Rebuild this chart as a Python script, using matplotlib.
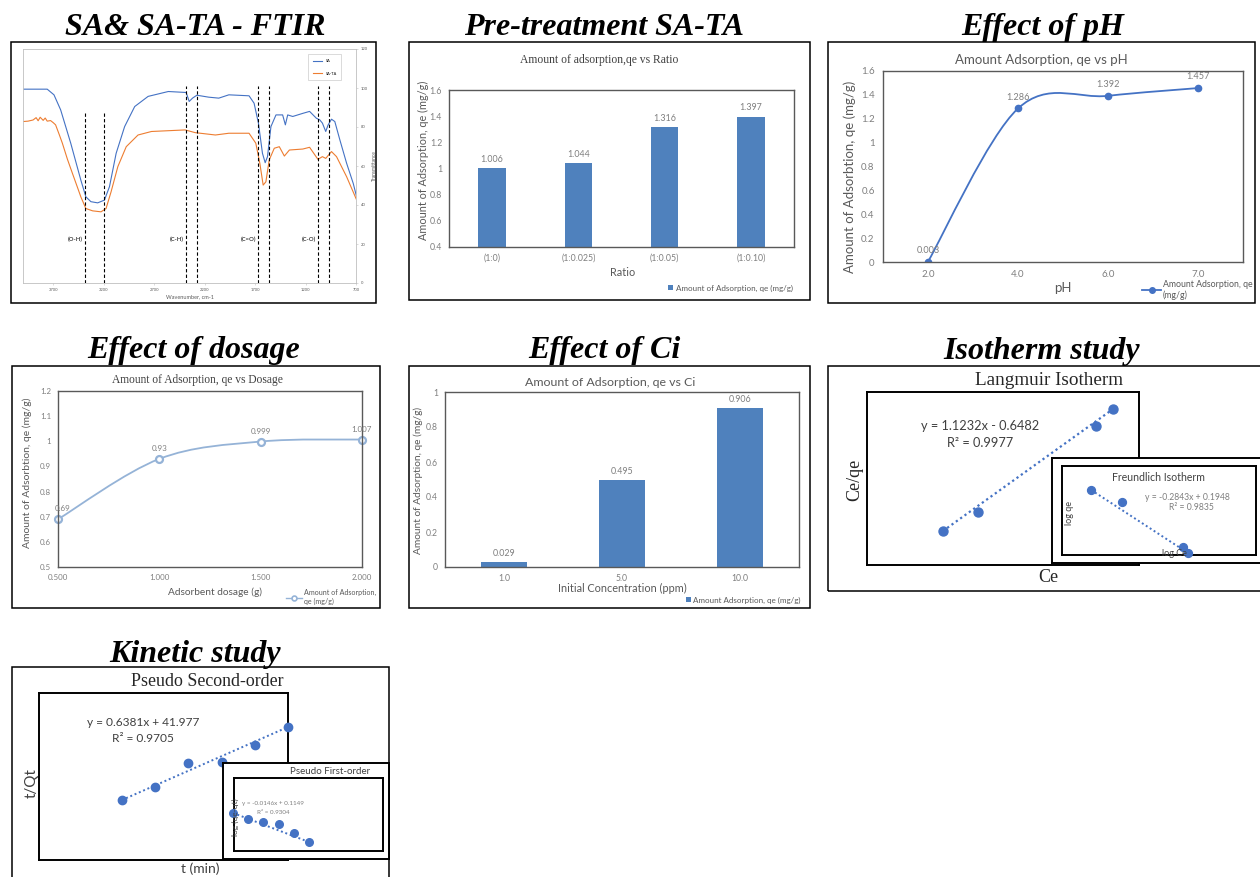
import numpy as np
import matplotlib
matplotlib.use('Agg')
import matplotlib.pyplot as plt
from matplotlib.patches import Rectangle, PathPatch
from matplotlib.path import Path
from matplotlib.lines import Line2D
from matplotlib.ticker import FuncFormatter

W, H = 1260, 877
SANS = ['Lato', 'DejaVu Sans']
SERIF = ['Liberation Serif', 'DejaVu Serif']
plt.rcParams['font.family'] = SANS

# ---- FTIR spectra (wavenumber cm-1, transmittance) ----
sa_wn = [4000, 3760, 3693, 3627, 3527, 3427, 3377, 3327, 3260, 3193, 3143, 3077, 2993, 2893, 2760, 2560,
         2383, 2353, 2320, 2277, 2160, 2060, 1960, 1760, 1710, 1667, 1627, 1600, 1577, 1543, 1493, 1427,
         1400, 1377, 1327, 1227, 1160, 1093, 1060, 1033, 1000, 977, 943, 910, 860, 793, 727, 693]
sa_t = [99.4, 99.4, 96.5, 88.8, 71.7, 52.8, 44.2, 41.7, 41.1, 42.5, 49.4, 66.5, 80.2, 90.5, 95.7, 98.2,
        97.7, 93.1, 94.8, 96.3, 95.3, 94.8, 96.5, 96.0, 92.2, 82.0, 66.5, 61.7, 64.8, 80.2, 86.2, 86.2,
        81.1, 86.2, 85.4, 87.0, 88.0, 84.5, 83.7, 82.0, 77.7, 81.0, 84.0, 82.8, 73.4, 61.4, 51.0, 44.0]
sata_wn = [4000, 3950, 3900, 3870, 3850, 3830, 3800, 3780, 3760, 3727, 3700, 3677, 3640, 3610, 3560, 3510,
           3460, 3427, 3377, 3310, 3227, 3177, 3127, 3060, 2977, 2860, 2727, 2393, 2293, 2093, 1960, 1760,
           1693, 1653, 1620, 1593, 1560, 1510, 1460, 1410, 1360, 1227, 1160, 1077, 1033, 1000, 943, 893,
           793, 693]
sata_t = [82.8, 83.0, 83.6, 84.8, 83.2, 85.0, 83.4, 84.6, 83.0, 83.3, 82.2, 81.1, 76.0, 71.7, 63.5, 56.2,
          49.0, 44.2, 38.2, 37.0, 36.5, 38.2, 46.8, 59.7, 69.9, 75.9, 77.7, 78.5, 77.1, 75.9, 76.8, 76.8,
          71.7, 61.4, 50.2, 51.9, 63.1, 69.1, 69.9, 65.1, 68.2, 68.7, 69.6, 63.4, 64.8, 63.9, 67.4, 64.8,
          54.5, 42.5]
band_names = ['(O-H)', '(C-H)', '(C=O)', '(C-O)']
band_lo = [3387, 2383, 1667, 1073]
band_hi = [3193, 2280, 1560, 970]
band_top = [88, 101, 101, 101]

# ---- adsorption studies ----
ratio_labels = ['(1:0)', '(1:0.025)', '(1:0.05)', '(1:0.10)']
ratio_qe = [1.006, 1.044, 1.316, 1.397]

ph_labels = ['2.0', '4.0', '6.0', '7.0']
ph_qe = [0.003, 1.286, 1.392, 1.457]

dosage_labels = ['0.500', '1.000', '1.500', '2.000']
dosage_qe = [0.69, 0.93, 0.999, 1.007]

ci_labels = ['1.0', '5.0', '10.0']
ci_qe = [0.029, 0.495, 0.906]

langmuir_ce = [1.2, 1.91, 4.30, 4.65]
langmuir_ce_qe = [0.70, 1.30, 4.03, 4.58]
langmuir_fit = (1.1232, -0.6482)
freund_logce = [0.08, 0.40, 1.03, 1.08]
freund_logqe = [0.172, 0.118, -0.085, -0.112]
freund_fit = (-0.2843, 0.1948)

kin_t = [10, 20, 30, 40, 50, 60]
kin_t_qt = [48.4, 54.0, 64.5, 64.9, 72.4, 80.3]
kin2_fit = (0.6381, 41.977)
kin_log = [-0.031, -0.182, -0.258, -0.308, -0.534, -0.761]
kin1_fit = (-0.0146, 0.1149)

BLUE = '#4472C4'
BAR = '#4F81BD'
LIGHT = '#95B3D7'
GREY = '#7f7f7f'
DARK = '#595959'

fig = plt.figure(figsize=(12.6, 8.77), dpi=100)


def rect(x0, y0, x1, y1):
    return [x0 / W, 1 - y1 / H, (x1 - x0) / W, (y1 - y0) / H]


def txt(x, y, s, **kw):
    kw.setdefault('ha', 'center')
    kw.setdefault('va', 'center')
    return fig.text(x / W, 1 - y / H, s, **kw)


def frame(x0, y0, x1, y1, lw=1.1):
    fig.add_artist(Rectangle((x0 / W, 1 - y1 / H), (x1 - x0) / W, (y1 - y0) / H,
                             transform=fig.transFigure, fill=False, edgecolor='black', lw=lw))


def heading(x, y, s):
    txt(x, y, s, family=SERIF, weight='bold', style='italic', fontsize=23, va='baseline')


def excel_axes(box, pad=5, size=6):
    ax = fig.add_axes(rect(*box))
    for s in ax.spines.values():
        s.set_color(DARK)
        s.set_linewidth(1.0)
    ax.tick_params(length=0, pad=pad, labelsize=size, labelcolor=GREY)
    ax.yaxis.set_major_formatter(FuncFormatter(lambda v, p: f'{round(v, 2):g}'))
    return ax


def plain_axes(box, z=1, lw=1.4):
    ax = fig.add_axes(rect(*box), zorder=z)
    ax.set_xticks([])
    ax.set_yticks([])
    for s in ax.spines.values():
        s.set_color('black')
        s.set_linewidth(lw)
    return ax


def smooth_line(ax, xs, ys, **kw):
    # Excel-style smoothed line: cubic Bezier through the points
    xs = np.asarray(xs, float)
    ys = np.asarray(ys, float)
    n = len(xs)
    verts = [(xs[0], ys[0])]
    codes = [Path.MOVETO]
    for i in range(n - 1):
        a, b = max(i - 1, 0), min(i + 2, n - 1)
        c1 = (xs[i] + (xs[i + 1] - xs[a]) / 6, ys[i] + (ys[i + 1] - ys[a]) / 6)
        c2 = (xs[i + 1] - (xs[b] - xs[i]) / 6, ys[i + 1] - (ys[b] - ys[i]) / 6)
        verts += [c1, c2, (xs[i + 1], ys[i + 1])]
        codes += [Path.CURVE4] * 3
    ax.add_patch(PathPatch(Path(verts, codes), fill=False, **kw))


def value_labels(ax, xs, ys, dy, size=6.4):
    for x, y in zip(xs, ys):
        ax.annotate(f'{y:g}', (x, y), xytext=(0, dy), textcoords='offset points',
                    ha='center', va='bottom', fontsize=size, color=GREY, annotation_clip=False)


# ================= SA & SA-TA FTIR =================
heading(195, 35, 'SA& SA-TA - FTIR')
frame(11, 42, 376, 303)
ax = fig.add_axes(rect(23, 49, 356, 283))
ax.plot(sa_wn, sa_t, color=BLUE, lw=0.8, label='SA')
ax.plot(sata_wn, sata_t, color='#ED7D31', lw=0.8, label='SA-TA')
for name, lo, hi, top in zip(band_names, band_lo, band_hi, band_top):
    ax.plot([lo, lo], [0, top], color='black', lw=0.8, ls=(0, (3, 2)))
    ax.plot([hi, hi], [0, top], color='black', lw=0.8, ls=(0, (3, 2)))
    ax.text(lo + 25, 22.5, name, ha='right', va='center', fontsize=4.3, weight='bold', color='#404040')
ax.set_xlim(4000, 700)
ax.set_ylim(0, 120)
ax.set_xticks([3700, 3200, 2700, 2200, 1700, 1200, 700])
ax.set_yticks(range(0, 121, 20))
ax.yaxis.tick_right()
ax.yaxis.set_label_position('right')
ax.tick_params(labelsize=3, labelcolor=DARK, color='#bfbfbf', length=1.5, width=0.4, pad=2)
for s in ax.spines.values():
    s.set_color('#bfbfbf')
    s.set_linewidth(0.6)
ax.set_xlabel('Wavenumber, cm-1', fontsize=4, color=DARK, labelpad=1.5)
ax.set_ylabel('Transmittance', fontsize=3.5, color=DARK, labelpad=3)
leg = ax.legend(loc='upper right', bbox_to_anchor=(0.962, 0.985), fontsize=2.8, fancybox=False,
                edgecolor='#bfbfbf', borderpad=1.2, labelspacing=2.2, handlelength=2.5)
leg.get_frame().set_linewidth(0.5)

# ================= Pre-treatment SA-TA =================
heading(604, 35, 'Pre-treatment SA-TA')
frame(409, 42, 810, 300)
ax = excel_axes((449, 90, 794, 247), size=6.3)
pos = np.arange(len(ratio_qe))
ax.bar(pos, ratio_qe, width=0.32, color=BAR, label='Amount of Adsorption, qe (mg/g)')
value_labels(ax, pos, ratio_qe, 3)
ax.set_xlim(-0.5, len(pos) - 0.5)
ax.set_ylim(0.4, 1.6)
ax.set_yticks(np.arange(0.4, 1.61, 0.2))
ax.set_xticks(pos, ratio_labels)
txt(599, 60, 'Amount of adsorption,qe vs Ratio', family=SERIF, fontsize=8.4, color='#404040')
txt(423, 160, 'Amount of Adsorption, qe (mg/g)', fontsize=7.8, rotation=90, color=DARK)
txt(623, 272, 'Ratio', fontsize=7.8, color=DARK)
ax.legend(loc='center right', bbox_to_anchor=(800 / W, 1 - 288 / H), bbox_transform=fig.transFigure,
          frameon=False, fontsize=5.8, handlelength=0.6, handleheight=0.6, handletextpad=0.3,
          labelcolor=DARK)

# ================= Effect of pH =================
heading(1043, 35, 'Effect of pH')
frame(828, 42, 1255, 303)
ax = excel_axes((883, 71, 1243, 262), pad=6, size=7)
pos = np.arange(len(ph_qe))
smooth_line(ax, pos, ph_qe, edgecolor=BLUE, lw=1.3)
ax.plot(pos, ph_qe, 'o', color=BLUE, ms=4.5)
value_labels(ax, pos, ph_qe, 5, size=6.6)
ax.set_xlim(-0.5, len(pos) - 0.5)
ax.set_ylim(0, 1.6)
ax.set_yticks(np.arange(0, 1.61, 0.2))
ax.set_xticks(pos, ph_labels)
txt(1041, 60, 'Amount Adsorption, qe vs pH', fontsize=9.5, color=DARK)
txt(850, 177, 'Amount of Adsorbtion, qe (mg/g)', fontsize=9.5, rotation=90, color=DARK)
txt(1063, 288, 'pH', fontsize=9.5, color=DARK)
ax.legend([Line2D([], [], color=BLUE, marker='o', ms=4, lw=1.3)], ['Amount Adsorption, qe\n(mg/g)'],
          loc='center left', bbox_to_anchor=(1134 / W, 1 - 290 / H), bbox_transform=fig.transFigure,
          frameon=False, fontsize=6.3, handlelength=2.2, handletextpad=0.2, labelcolor=DARK)

# ================= Effect of dosage =================
heading(194, 358, 'Effect of dosage')
frame(12, 366, 380, 608)
ax = excel_axes((58, 391, 362, 567), size=5.7)
pos = np.arange(len(dosage_qe))
smooth_line(ax, pos, dosage_qe, edgecolor=LIGHT, lw=1.3)
ax.plot(pos, dosage_qe, 'o', mfc='white', mec=LIGHT, mew=1.6, ms=5, clip_on=False)
value_labels(ax, pos + np.array([0.05, 0, 0, 0]), dosage_qe, 5, size=5.8)
ax.set_xlim(0, len(pos) - 1)
ax.set_ylim(0.5, 1.2)
ax.set_yticks(np.arange(0.5, 1.21, 0.1))
ax.set_xticks(pos, dosage_labels)
txt(197, 380, 'Amount of Adsorption, qe vs Dosage', family=SERIF, fontsize=8.3, color='#404040')
txt(27, 473, 'Amount of Adsorbtion, qe (mg/g)', fontsize=7.5, rotation=90, color=DARK)
txt(215, 592, 'Adsorbent dosage (g)', fontsize=7.3, color=DARK)
ax.legend([Line2D([], [], color=LIGHT, marker='o', mfc='white', mec=LIGHT, mew=1.2, ms=3.5, lw=1)],
          ['Amount of Adsorption,\nqe (mg/g)'],
          loc='center left', bbox_to_anchor=(280 / W, 1 - 597 / H), bbox_transform=fig.transFigure,
          frameon=False, fontsize=5.1, handlelength=2.2, handletextpad=0.3, labelcolor=DARK)

# ================= Effect of Ci =================
heading(604, 358, 'Effect of Ci')
frame(409, 366, 810, 608)
ax = excel_axes((445, 392, 799, 567), size=6.2)
pos = np.arange(len(ci_qe))
ax.bar(pos, ci_qe, width=0.39, color=BAR, label='Amount Adsorption, qe (mg/g)')
value_labels(ax, pos, ci_qe, 3)
ax.set_xlim(-0.5, len(pos) - 0.5)
ax.set_ylim(0, 1)
ax.set_yticks(np.arange(0, 1.01, 0.2))
ax.set_xticks(pos, ci_labels)
txt(610, 382, 'Amount of Adsorption, qe vs Ci', fontsize=8.9, color=DARK)
txt(418, 480, 'Amount of Adsorption, qe (mg/g)', fontsize=7.3, rotation=90, color=DARK)
txt(622, 588, 'Initial Concentration (ppm)', fontsize=7.8, color=DARK)
ax.legend(loc='center right', bbox_to_anchor=(808 / W, 1 - 600 / H), bbox_transform=fig.transFigure,
          frameon=False, fontsize=5.8, handlelength=0.6, handleheight=0.6, handletextpad=0.3,
          labelcolor=DARK)

# ================= Isotherm study =================
heading(1042, 359, 'Isotherm study')
frame(828, 366, 1262, 591)
ax = plain_axes((867, 392, 1139, 565))
ax.scatter(langmuir_ce, langmuir_ce_qe, s=42, color=BLUE, zorder=3, clip_on=False)
xs = np.array([langmuir_ce[0], langmuir_ce[-1]])
ax.plot(xs, langmuir_fit[0] * xs + langmuir_fit[1], color=BLUE, lw=1.6, ls=(0, (1, 1.4)))
ax.set_xlim(-0.34, 5.18)
ax.set_ylim(-0.38, 5.12)
txt(1049, 381, 'Langmuir Isotherm', family=SERIF, fontsize=13.8, color='#262626')
txt(855, 480, 'Ce/qe', family=SERIF, fontsize=13, rotation=90, color='#262626')
txt(1048, 578, 'Ce', family=SERIF, fontsize=13, color='#262626')
txt(980, 426, 'y = 1.1232x - 0.6482', fontsize=9.2, color='#404040')
txt(980, 443, 'R² = 0.9977', fontsize=9.2, color='#404040')

box = plain_axes((1052, 458, 1262, 563), z=2)
box.set_facecolor('white')
ax = plain_axes((1062, 466, 1256, 555), z=3)
xs = np.array([freund_logce[0], freund_logce[-1]])
ax.plot(xs, freund_fit[0] * xs + freund_fit[1], color=BLUE, lw=1.4, ls=(0, (1, 1.4)))
ax.scatter(freund_logce, freund_logqe, s=32, color=BLUE, zorder=3, clip_on=False)
ax.set_xlim(-0.22, 1.78)
ax.set_ylim(-0.121, 0.28)
txt(1158, 477, 'Freundlich Isotherm', fontsize=7.6, color='#404040')
txt(1187, 497, 'y = -0.2843x + 0.1948', fontsize=6.2, color=GREY)
txt(1191, 508, 'R² = 0.9835', fontsize=6.2, color=GREY)
txt(1069, 513, 'log qe', fontsize=6.5, rotation=90, color='#404040')
txt(1174, 554, 'log Ce', fontsize=6.5, color='#404040')

# ================= Kinetic study =================
heading(195, 662, 'Kinetic study')
frame(12, 667, 389, 880)
ax = plain_axes((39, 693, 288, 860))
xs = np.array([kin_t[0], kin_t[-1]])
ax.plot(xs, kin2_fit[0] * xs + kin2_fit[1], color=BLUE, lw=1.4, ls=(0, (1, 1.4)))
ax.scatter(kin_t, kin_t_qt, s=36, color=BLUE, zorder=3, clip_on=False)
ax.set_xlim(-14.9, 60)
ax.set_ylim(22.2, 95.1)
txt(207, 682, 'Pseudo Second-order', family=SERIF, fontsize=12.9, color='#262626')
txt(32, 783, 't/Qt', fontsize=11, rotation=90, color='#404040')
txt(200, 869, 't (min)', fontsize=10, color='#404040')
txt(143, 723, 'y = 0.6381x + 41.977', fontsize=8.6, color='#404040')
txt(143, 739, 'R² = 0.9705', fontsize=8.6, color='#404040')

box = plain_axes((223, 763, 389, 859), z=2)
box.set_facecolor('white')
ax = plain_axes((234, 778, 383, 851), z=3)
xs = np.array([kin_t[0], kin_t[-1]])
ax.plot(xs, kin1_fit[0] * xs + kin1_fit[1], color=BLUE, lw=1.4, ls=(0, (1, 1.4)), clip_on=False)
ax.scatter(kin_t, kin_log, s=30, color=BLUE, zorder=3, clip_on=False)
ax.set_xlim(10.66, 108.7)
ax.set_ylim(-0.988, 0.85)
txt(330, 772, 'Pseudo First-order', fontsize=7, color='#404040')
txt(273, 804, 'y = -0.0146x + 0.1149', fontsize=4.5, color=GREY)
txt(273, 813, 'R² = 0.9304', fontsize=4.5, color=GREY)
txt(235, 817, 'log (qe-qt)', fontsize=6, rotation=90, color='#404040')

fig.savefig('out.png', dpi=100, facecolor='white')
